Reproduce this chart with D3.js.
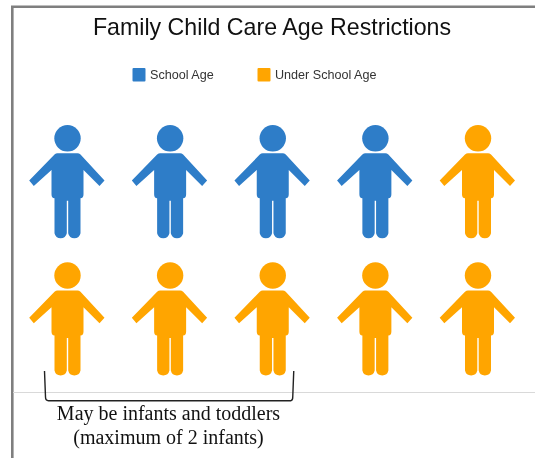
<!DOCTYPE html>
<html>
<head>
<meta charset="utf-8">
<script src="https://cdn.jsdelivr.net/npm/d3@7"></script>
<style>
    html, body { margin: 0; padding: 0; background: #fff; }
    svg { display: block; filter: blur(0.35px); }
</style>
</head>
<body>
<div id="chart"></div>
<script>
// Data
const categories = ["School Age", "Under School Age"];
const categoryCounts = [4, 6];
const categoryColors = ["#2e7dc8", "#ffa500"];
const columns = [0, 1, 2, 3, 4];
const rows = [0, 1];
const chartTitle = "Family Child Care Age Restrictions";
const noteLines = ["May be infants and toddlers", "(maximum of 2 infants)"];
const bracketedPeople = [5, 7]; // first and last person under the bracket

const width = 535, height = 458;

const svg = d3.select("#chart").append("svg")
    .attr("width", width)
    .attr("height", height);

// Frame: the picture is cut off on the right and bottom
svg.append("path")
    .attr("d", "M12.3,458V6.7H535")
    .attr("fill", "none")
    .attr("stroke", "#7f7f7f")
    .attr("stroke-width", 2.6);

svg.append("line")
    .attr("x1", 13).attr("x2", 535)
    .attr("y1", 392.5).attr("y2", 392.5)
    .attr("stroke", "#d9d9d9");

// Title
svg.append("text")
    .attr("x", 272)
    .attr("y", 35)
    .attr("text-anchor", "middle")
    .style("font", "23.2px 'Liberation Sans'")
    .attr("fill", "#111")
    .text(chartTitle);

// Legend
const legendX = d3.scaleOrdinal().domain(categories).range([132.5, 257.5]);

const legend = svg.selectAll(".legend-item")
    .data(categories)
    .enter()
    .append("g")
    .attr("class", "legend-item")
    .attr("transform", d => "translate(" + legendX(d) + ",68)");

legend.append("rect")
    .attr("width", 13)
    .attr("height", 13.5)
    .attr("rx", 1)
    .attr("fill", (d, i) => categoryColors[i]);

legend.append("text")
    .attr("x", 17.5)
    .attr("y", 11)
    .style("font", "12.6px 'Liberation Sans'")
    .attr("fill", "#333")
    .text(d => d);

// One flat list of people, filled row by row
const people = categories.flatMap((c, i) => d3.range(categoryCounts[i]).map(() => c));

// Scales
const x = d3.scalePoint().domain(columns).range([67.5, 478]);
const y = d3.scalePoint().domain(rows).range([138.3, 275.5]);
const color = d3.scaleOrdinal().domain(categories).range(categoryColors);

// Person icon, origin at the centre of the head
const bodyPath = "M-10,15 L10,15 Q11.5,15 13,16.3 L37,42.3 L32,47.7 L16,31.7 L16,56 Q16,60 13,60 " +
    "L13,95 A6.3,6.3 0 0 1 0.7,95 L0.7,62.5 L-0.7,62.5 L-0.7,95 A6.3,6.3 0 0 1 -13,95 L-13,60 " +
    "Q-16,60 -16,56 L-16,31.7 L-33.7,47.7 L-38.3,42.3 L-13,16.3 Q-11.5,15 -10,15 Z";

const person = svg.selectAll(".person")
    .data(people)
    .enter()
    .append("g")
    .attr("class", "person")
    .attr("transform", (d, i) => "translate(" + x(i % columns.length) + "," + y(Math.floor(i / columns.length)) + ")")
    .attr("fill", d => color(d));

person.append("circle").attr("r", 13.2);
person.append("path").attr("d", bodyPath);

// Bracket below the first three people of the second row
const bracketLeft = x(bracketedPeople[0] % columns.length) - 23;
const bracketRight = x(bracketedPeople[1] % columns.length) + 21;

svg.append("path")
    .attr("d", "M" + bracketLeft + ",371 L" + (bracketLeft + 1) + ",397 Q" + (bracketLeft + 1) + ",400.7 " + (bracketLeft + 4) + ",400.7" +
        " L" + (bracketRight - 3) + ",400.7 Q" + (bracketRight - 1) + ",400.7 " + (bracketRight - 1) + ",397 L" + bracketRight + ",371")
    .attr("fill", "none")
    .attr("stroke", "#222")
    .attr("stroke-width", 1.4);

svg.selectAll(".note")
    .data(noteLines)
    .enter()
    .append("text")
    .attr("class", "note")
    .attr("x", 168.5)
    .attr("y", (d, i) => 420 + i * 24)
    .attr("text-anchor", "middle")
    .style("font", "20px 'Liberation Serif'")
    .attr("fill", "#111")
    .text(d => d);
</script>
</body>
</html>
